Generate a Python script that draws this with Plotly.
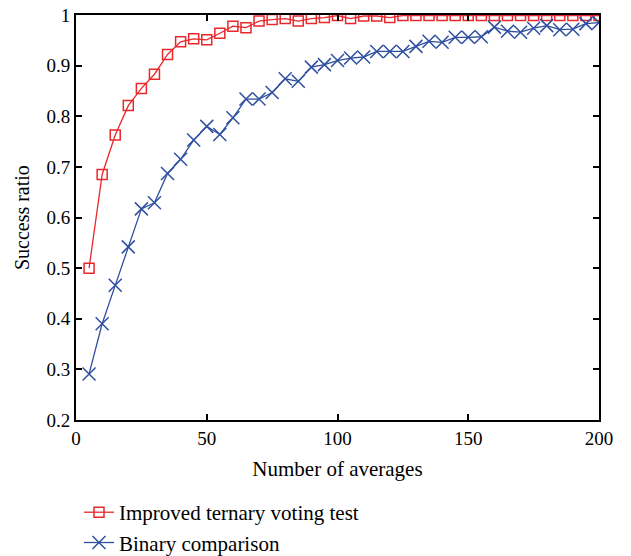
import plotly.graph_objects as go

x_vals = list(range(5, 205, 5))
ternary = [0.500, 0.685, 0.763, 0.821, 0.855, 0.883, 0.922, 0.947, 0.953, 0.951,
           0.964, 0.978, 0.975, 0.988, 0.991, 0.993, 0.988, 0.993, 0.995, 0.999,
           0.993, 0.998, 0.998, 0.995, 0.999, 0.999, 0.999, 0.999, 0.999, 0.999,
           0.999, 0.999, 0.999, 0.999, 0.999, 0.999, 0.999, 0.999, 0.999, 0.999]
binary = [0.291, 0.390, 0.466, 0.542, 0.617, 0.629, 0.687, 0.715, 0.753, 0.780,
          0.764, 0.797, 0.834, 0.834, 0.847, 0.874, 0.869, 0.897, 0.902, 0.910,
          0.915, 0.917, 0.928, 0.928, 0.928, 0.938, 0.948, 0.946, 0.956, 0.956,
          0.957, 0.976, 0.968, 0.966, 0.974, 0.979, 0.971, 0.972, 0.983, 0.985]
x_ticks = [0, 50, 100, 150, 200]
y_ticks = [0.2, 0.3, 0.4, 0.5, 0.6, 0.7, 0.8, 0.9, 1.0]
y_tick_text = ["0.2", "0.3", "0.4", "0.5", "0.6", "0.7", "0.8", "0.9", "1"]
y_title = "Success ratio"

FONT = "Liberation Serif"
RED = "#e8282c"
BLUE = "#2f4f9f"

fig = go.Figure()
fig.add_trace(go.Scatter(
    x=x_vals, y=ternary, mode="lines+markers", name="Improved ternary voting test",
    line=dict(color=RED, width=1.3),
    marker=dict(symbol="square-open", size=10, color=RED, line=dict(width=1.5)),
))
fig.add_trace(go.Scatter(
    x=x_vals, y=binary, mode="lines+markers", name="Binary comparison",
    line=dict(color=BLUE, width=1.3),
    marker=dict(symbol="x-thin-open", size=13, color=BLUE, line=dict(width=1.5, color=BLUE)),
))

axis_common = dict(
    showline=True, linecolor="black", linewidth=2, mirror="ticks",
    ticks="inside", ticklen=6, tickwidth=1.5, tickcolor="black",
    showgrid=False, zeroline=False,
    tickfont=dict(family=FONT, size=19, color="black"),
)
fig.update_xaxes(range=[0, 200], tickvals=x_ticks, **axis_common,
                 title=dict(text="Number of averages", font=dict(family=FONT, size=21, color="black"), standoff=14))
fig.update_yaxes(range=[0.2, 1.0], tickvals=y_ticks, ticktext=y_tick_text, **axis_common)

fig.add_annotation(text=y_title, xref="paper", yref="paper", x=-0.104, y=0.5,
                   xanchor="center", yanchor="middle", textangle=-90, showarrow=False,
                   font=dict(family=FONT, size=20, color="black"))

fig.update_layout(
    width=631, height=556,
    margin=dict(l=76, r=32, t=15, b=136, autoexpand=False),
    paper_bgcolor="white", plot_bgcolor="white",
    font=dict(family=FONT, color="black"),
    legend=dict(x=79/631, y=0.115, xref="container", yref="container", xanchor="left", yanchor="top",
                font=dict(family=FONT, size=21, color="black"),
                bgcolor="rgba(0,0,0,0)", tracegroupgap=0, itemwidth=30),
    showlegend=True,
)

fig.write_html("out.html")
